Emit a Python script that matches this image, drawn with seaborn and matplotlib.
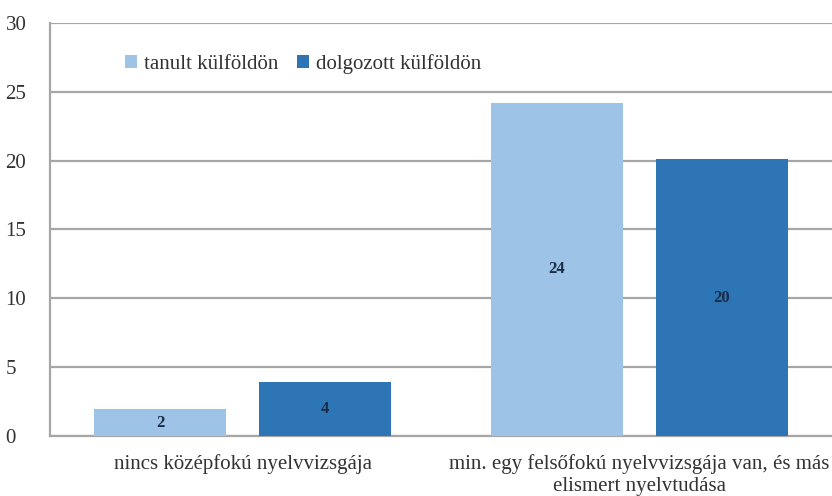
import matplotlib
matplotlib.use("Agg")
import matplotlib.pyplot as plt
import pandas as pd
import seaborn as sns

categories = ["nincs középfokú nyelvvizsgája",
              "min. egy felsőfokú nyelvvizsgája van, és más\nelismert nyelvtudása"]
series_names = ["tanult külföldön", "dolgozott külföldön"]
tanult = [1.95, 24.2]
dolgozott = [3.9, 20.1]
yticks = [0, 5, 10, 15, 20, 25, 30]

df = pd.DataFrame({
    "category": categories * 2,
    "group": [series_names[0]] * 2 + [series_names[1]] * 2,
    "value": tanult + dolgozott,
})

sns.set_theme(style="white")
plt.rcParams["font.family"] = ["Liberation Serif", "DejaVu Serif"]

fig = plt.figure(figsize=(8.32, 4.96), dpi=100)
ax = fig.add_axes([0.060, 0.121, 0.940, 0.833])

colors = ["#9DC3E6", "#2E75B6"]
sns.barplot(data=df, x="category", y="value", hue="group",
            palette=colors, width=0.833, gap=0.2, ax=ax,
            saturation=1, zorder=3, linewidth=0)

# gridlines
ax.set_ylim(0, 30)
ax.set_yticks(yticks)
ax.yaxis.grid(True, color="#a6a6a6", linewidth=1.6, zorder=0)
ax.set_axisbelow(True)
ax.set_xlim(-0.487, 1.487)

for s in ["top", "right"]:
    ax.spines[s].set_visible(False)
ax.spines["left"].set_color("#a6a6a6")
ax.spines["left"].set_linewidth(1.6)
ax.spines["bottom"].set_color("#a6a6a6")
ax.spines["bottom"].set_linewidth(1.6)

# value labels
for cont in ax.containers:
    ax.bar_label(cont, labels=[f"{round(v.get_height())}" for v in cont],
                 label_type="center", fontsize=12, fontweight="bold",
                 color="#1c2b45")

ax.set_xlabel("")
ax.set_ylabel("")
ax.tick_params(axis="y", length=0, labelsize=15, labelcolor="#333333", pad=32)
for lbl in ax.get_yticklabels():
    lbl.set_horizontalalignment("left")
ax.tick_params(axis="x", length=0, labelsize=15, labelcolor="#333333", pad=13)

ax.legend(loc="center left", bbox_to_anchor=(0.072, 0.900), ncol=2,
          frameon=False, fontsize=15, handlelength=0.6, handleheight=0.6,
          handletextpad=0.3, columnspacing=0.9, labelcolor="#333333")

fig.savefig("out.png", dpi=100, facecolor="white")
